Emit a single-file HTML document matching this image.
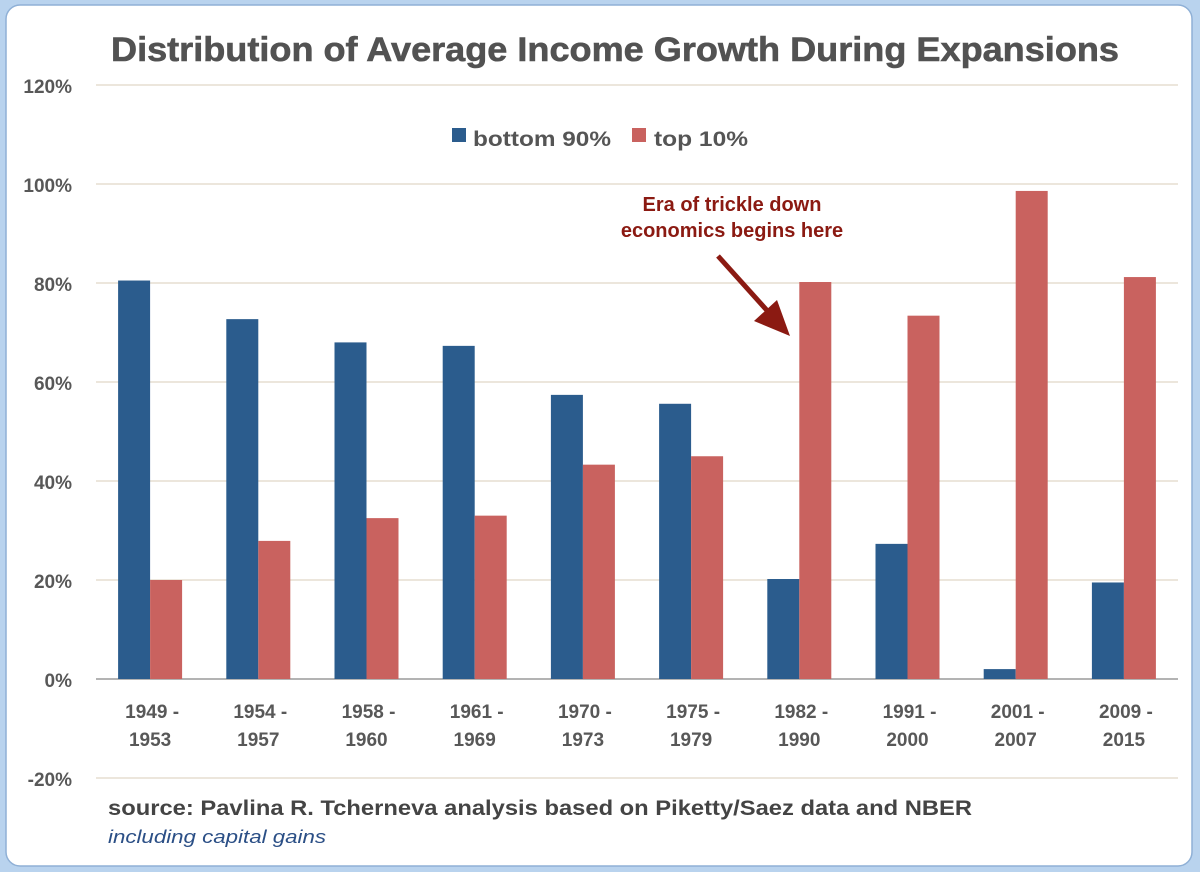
<!DOCTYPE html>
<html><head><meta charset="utf-8"><style>
html,body{margin:0;padding:0;background:#fff;}
body{width:1200px;height:872px;overflow:hidden;}
</style></head><body>
<svg id="chart" width="1200" height="872" xmlns="http://www.w3.org/2000/svg" font-family="'Liberation Sans', sans-serif">
<rect x="0" y="0" width="1200" height="872" fill="#b9d3ee"/>
<rect x="6" y="5" width="1186" height="861" rx="14" fill="#ffffff" stroke="#8fb0d6" stroke-width="1.5"/>
<text x="615" y="61" text-anchor="middle" font-size="34" font-weight="bold" fill="#525252" stroke="#525252" stroke-width="0.6" textLength="1008" lengthAdjust="spacingAndGlyphs">Distribution of Average Income Growth During Expansions</text>
<g id="grid"></g>
<g id="bars"></g>
<g id="xlabels"></g>
<g>
<rect x="452" y="128" width="14" height="14" fill="#2b5c8d"/>
<text x="473" y="146" font-size="21" font-weight="bold" fill="#555" textLength="138" lengthAdjust="spacingAndGlyphs">bottom 90%</text>
<rect x="632" y="128" width="14" height="14" fill="#c9625f"/>
<text x="654" y="146" font-size="21" font-weight="bold" fill="#555" textLength="94" lengthAdjust="spacingAndGlyphs">top 10%</text>
</g>
<g>
<text x="732" y="211" text-anchor="middle" font-size="20" font-weight="bold" fill="#8b1a12">Era of trickle down</text>
<text x="732" y="237" text-anchor="middle" font-size="20" font-weight="bold" fill="#8b1a12">economics begins here</text>
<line x1="718" y1="256" x2="772" y2="316" stroke="#8b1a12" stroke-width="5"/>
<polygon points="790,336 754,321 777,300" fill="#8b1a12"/>
</g>
<text x="108" y="815" font-size="21" font-weight="bold" fill="#444" textLength="864" lengthAdjust="spacingAndGlyphs">source: Pavlina R. Tcherneva analysis based on Piketty/Saez data and NBER</text>
<text x="108" y="843" font-size="18" font-style="italic" fill="#2b4f86" textLength="218" lengthAdjust="spacingAndGlyphs">including capital gains</text>
</svg>
<script>
const categoriesTop = ["1949 -","1954 -","1958 -","1961 -","1970 -","1975 -","1982 -","1991 -","2001 -","2009 -"];
const categoriesBottom = ["1953","1957","1960","1969","1973","1979","1990","2000","2007","2015"];
const bottom90 = [80.5,72.7,68.0,67.3,57.4,55.6,20.2,27.3,2.0,19.5];
const top10 = [20.0,27.9,32.5,33.0,43.3,45.0,80.2,73.4,98.6,81.2];
const yTicks = [-20,0,20,40,60,80,100,120];
const yTickLabels = ["-20%","0%","20%","40%","60%","80%","100%","120%"];

const NS="http://www.w3.org/2000/svg";
const y0=679, pxPer=4.95, plotL=96, plotR=1178;
const step=(plotR-plotL)/categoriesTop.length;
function yScale(v){return y0 - v*pxPer;}
function xCenter(i){return plotL + step*(i+0.5);}
function mk(tag,attrs,parent){const e=document.createElementNS(NS,tag);for(const k in attrs)e.setAttribute(k,attrs[k]);parent.appendChild(e);return e;}

const grid=document.getElementById('grid');
yTicks.forEach((t,i)=>{
  const y=yScale(t);
  const l=mk('line',{x1:plotL,x2:plotR,y1:y,y2:y,stroke:t===0?'#9a9a9a':'#ece6dc','stroke-width':t===0?1.5:2},grid);
  
  
  const tx=mk('text',{x:72,y:y+8,'text-anchor':'end','font-size':19,'font-weight':'bold',fill:'#585858'},grid);
  tx.textContent=yTickLabels[i];
  
  
});

const bars=document.getElementById('bars');
const bw=32;
categoriesTop.forEach((c,i)=>{
  const cx=xCenter(i);
  const b=mk('rect',{x:cx-bw,y:Math.min(yScale(bottom90[i]),y0),width:bw,height:Math.abs(bottom90[i]*pxPer),fill:'#2b5c8d'},bars);
  
  
  const r=mk('rect',{x:cx,y:Math.min(yScale(top10[i]),y0),width:bw,height:Math.abs(top10[i]*pxPer),fill:'#c9625f'},bars);
  
  
});

const xl=document.getElementById('xlabels');
categoriesTop.forEach((c,i)=>{
  const cx=xCenter(i);
  const t1=mk('text',{x:cx+2,y:718,'text-anchor':'middle','font-size':19,'font-weight':'bold',fill:'#585858'},xl);
  t1.textContent=c;
  
  
  const t2=mk('text',{x:cx,y:746,'text-anchor':'middle','font-size':19,'font-weight':'bold',fill:'#585858'},xl);
  t2.textContent=categoriesBottom[i];
  
  
});
</script>
</body></html>
